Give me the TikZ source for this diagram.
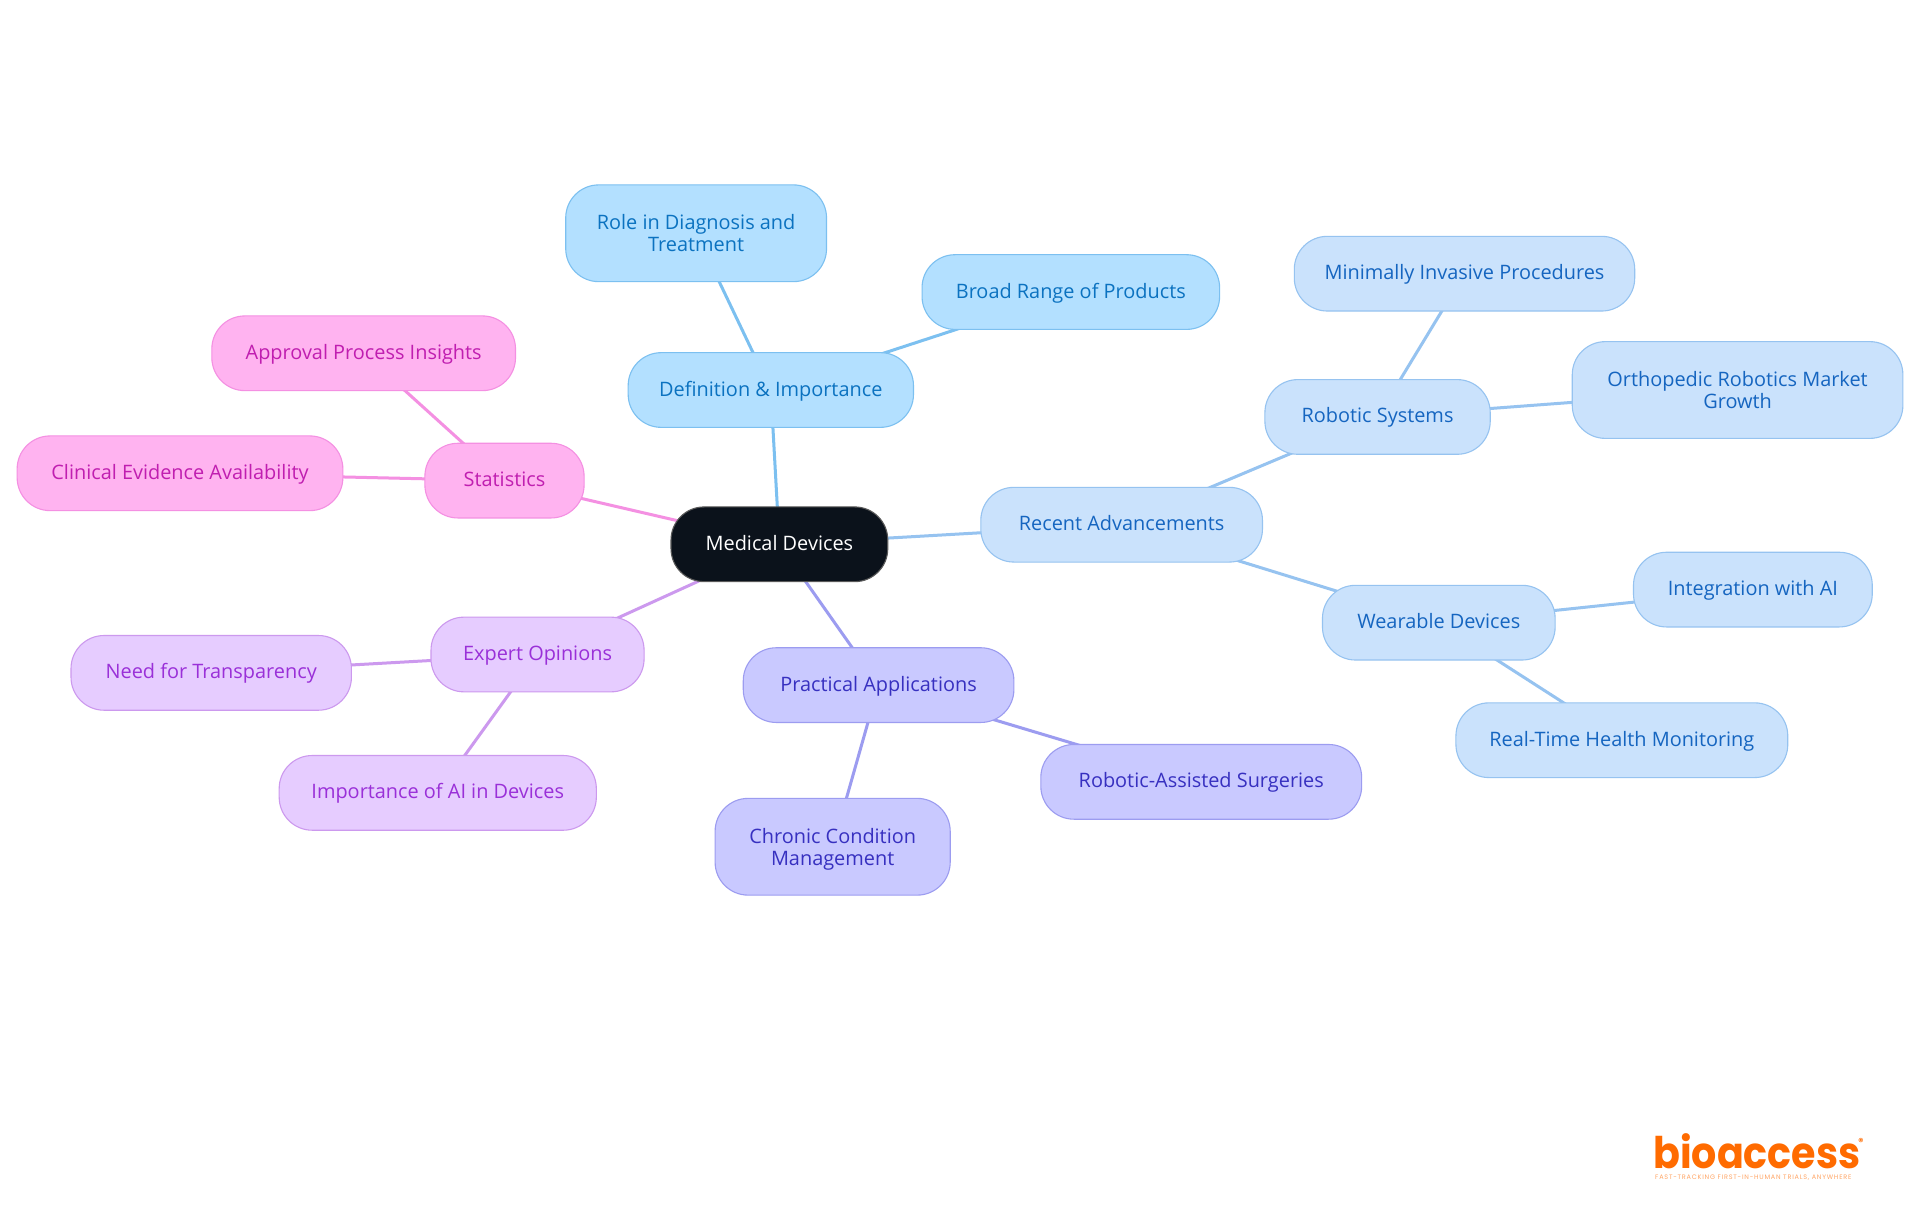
\documentclass[tikz,border=0pt]{standalone}
\usepackage{fontspec}
\setmainfont{Open Sans}
\newfontfamily\logofont{Poppins}[BoldFont={Poppins Bold}]
\usetikzlibrary{backgrounds}
\definecolor{blF}{HTML}{B3E0FF}\definecolor{blS}{HTML}{7CC0F0}\definecolor{blT}{HTML}{0B72C0}
\definecolor{lbF}{HTML}{CAE2FC}\definecolor{lbS}{HTML}{96C3F0}\definecolor{lbT}{HTML}{1565C0}
\definecolor{inF}{HTML}{C9C9FF}\definecolor{inS}{HTML}{9C9CF0}\definecolor{inT}{HTML}{3730C0}
\definecolor{puF}{HTML}{E6CCFF}\definecolor{puS}{HTML}{CC99EE}\definecolor{puT}{HTML}{9A30D8}
\definecolor{piF}{HTML}{FFB3F0}\definecolor{piS}{HTML}{F490E2}\definecolor{piT}{HTML}{C01EB0}
\definecolor{rootF}{HTML}{0B121B}\definecolor{logoC}{HTML}{FF6B00}
\newcommand{\tallfirst}{\rule{0pt}{22.5pt}}
\tikzset{
  x=1pt,y=1pt,
  box/.style={draw,rounded corners=33pt,inner sep=0pt,align=center,line width=1.1pt,
    font=\fontsize{19.9}{22}\selectfont,
    execute at begin node={\rule{0pt}{20pt}},execute at end node={\rule[-8pt]{0pt}{8pt}}},
  rootbox/.style={box,fill=rootF,draw=gray!70!black,text=white},
  blbox/.style={box,fill=blF,draw=blS,text=blT},
  lbbox/.style={box,fill=lbF,draw=lbS,text=lbT},
  inbox/.style={box,fill=inF,draw=inS,text=inT},
  pubox/.style={box,fill=puF,draw=puS,text=puT},
  pibox/.style={box,fill=piF,draw=piS,text=piT},
  link/.style={line width=3pt},
}
% name, left, right, top, bottom (in 1568-wide units), style, text
\newcommand{\mnode}[7]{%
  \pgfmathsetmacro{\mcx}{(#2+#3)/2*1.2245}%
  \pgfmathsetmacro{\mcy}{-(#4+#5)/2*1.2245}%
  \pgfmathsetmacro{\mw}{(#3-#2)*1.2245}%
  \pgfmathsetmacro{\mh}{(#5-#4)*1.2245}%
  \node[#6,minimum width=\mw pt,minimum height=\mh pt] (#1) at (\mcx,\mcy) {#7};}
\begin{document}
\begin{tikzpicture}
\useasboundingbox (0,0) rectangle (1920,-1215);
\mnode{root}{548}{725}{414}{475}{rootbox}{Medical Devices}
\mnode{def}{513}{746}{288}{349}{blbox}{Definition \& Importance}
\mnode{role}{462}{675}{151}{230}{blbox}{\tallfirst Role in Diagnosis and\\Treatment}
\mnode{broad}{753}{996}{208}{269}{blbox}{Broad Range of Products}
\mnode{recent}{801}{1031}{398}{459}{lbbox}{Recent Advancements}
\mnode{robsys}{1033}{1217}{310}{371}{lbbox}{Robotic Systems}
\mnode{minim}{1057}{1335}{193}{254}{lbbox}{Minimally Invasive Procedures}
\mnode{ortho}{1284}{1554}{279}{358}{lbbox}{\tallfirst Orthopedic Robotics Market\\Growth}
\mnode{wear}{1080}{1270}{478}{539}{lbbox}{Wearable Devices}
\mnode{integ}{1334}{1529}{451}{512}{lbbox}{Integration with AI}
\mnode{realt}{1189}{1460}{574}{635}{lbbox}{Real-Time Health Monitoring}
\mnode{pract}{607}{828}{529}{590}{inbox}{Practical Applications}
\mnode{robas}{850}{1112}{608}{669}{inbox}{Robotic-Assisted Surgeries}
\mnode{chron}{584}{776}{652}{731}{inbox}{\tallfirst Chronic Condition\\Management}
\mnode{expert}{352}{526}{504}{565}{pubox}{Expert Opinions}
\mnode{need}{58}{287}{519}{580}{pubox}{Need for Transparency}
\mnode{impai}{228}{487}{617}{678}{pubox}{Importance of AI in Devices}
\mnode{stats}{347}{477}{362}{423}{pibox}{Statistics}
\mnode{appr}{173}{421}{258}{319}{pibox}{Approval Process Insights}
\mnode{clin}{14}{280}{356}{417}{pibox}{Clinical Evidence Availability}
\begin{scope}[on background layer]
\fill[white] (0,0) rectangle (1920,-1215);
\draw[link,blS] (root.center)--(def.center) (def.center)--(role.center) (def.center)--(broad.center);
\draw[link,lbS] (root.center)--(recent.center) (recent.center)--(robsys.center) (recent.center)--(wear.center)
  (robsys.center)--(minim.center) (robsys.center)--(ortho.center) (wear.center)--(integ.center) (wear.center)--(realt.center);
\draw[link,inS] (root.center)--(pract.center) (pract.center)--(robas.center) (pract.center)--(chron.center);
\draw[link,puS] (root.center)--(expert.center) (expert.center)--(need.center) (expert.center)--(impai.center);
\draw[link,piS] (root.center)--(stats.center) (stats.center)--(appr.center) (stats.center)--(clin.center);
\end{scope}
\node[anchor=base west,inner sep=0pt,yscale=1.1,text=logoC,font=\logofont\bfseries\fontsize{39.6}{40}\selectfont] (logo) at (1653,-1168) {bioaccess};
\node[inner sep=0pt,text=logoC,font=\logofont\bfseries\fontsize{10}{10}\selectfont] (reg) at (1861,-1142) {®};
\node[anchor=west,inner sep=0pt,text=logoC!60,font=\logofont\fontsize{6.5}{7}\selectfont\addfontfeature{LetterSpace=12}] (tag) at (1655,-1178) {FAST-TRACKING FIRST-IN-HUMAN TRIALS, ANYWHERE};
\end{tikzpicture}
\end{document}
